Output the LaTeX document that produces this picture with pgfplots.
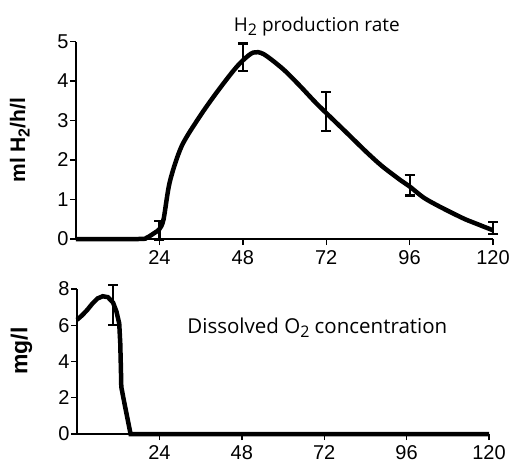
\documentclass[border=0pt]{standalone}
\usepackage{fontspec}
\setmainfont{Liberation Sans}
\newfontfamily\annfont{Open Sans}
\usepackage{pgfplots}
\pgfplotsset{compat=1.18}
\newcommand{\sub}[1]{\raisebox{-0.4ex}{\fontsize{16}{16}\selectfont #1}}
\pgfplotsset{myax/.style={
  scale only axis, axis lines=left, axis line style={-, line width=1.4pt},
  xmin=0, xmax=120, ymin=0, xtick={24,48,72,96,120},
  tick align=outside, major tick length=6pt,
  every tick/.style={line width=1.4pt, black},
  tick label style={font=\fontsize{20}{20}\selectfont},
  /pgf/number format/assume math mode=true,
  xticklabel style={yshift=-2pt},
  yticklabel style={xshift=2pt},
  clip=false, anchor=south west,
  ylabel style={at={(axis description cs:-0.135,0.5)}, anchor=center, rotate=0, font=\bfseries\fontsize{21}{21}\selectfont},
}}
\begin{document}
\begin{tikzpicture}
\useasboundingbox (0pt,0pt) rectangle (529pt,464pt);
\begin{axis}[myax, at={(76pt,225pt)}, width=417pt, height=197.5pt, ymax=5, ytick={0,1,2,3,4,5},
  ylabel={ml H\sub{2}/h/l}]
\addplot[line width=4.5pt, smooth, tension=0.5] coordinates {
(0,0) (18,0) (20.3,0.03) (22.5,0.15) (24,0.25) (25.2,0.5) (27,1.45) (30.4,2.35) (35.6,3.1) (40.4,3.7) (45.2,4.25) (48,4.52) (51,4.72) (54,4.68) (59.6,4.3) (64.4,3.88) (69,3.45) (74,3.02) (78,2.68) (83.6,2.2) (88,1.85) (93.2,1.5) (96,1.33) (100,1.05) (104,0.85) (108,0.67) (112,0.5) (116,0.36) (120,0.22)};
\addplot[draw=none, mark=none, error bars/.cd, y dir=both, y explicit,
  error bar style={line width=2.2pt, black},
  error mark options={rotate=90, mark size=5pt, line width=2.2pt, black}] coordinates {
(24,0.22) +- (0,0.24)
(48,4.6) +- (0,0.35)
(72,3.23) +- (0,0.5)
(96,1.36) +- (0,0.26)
(120,0.28) +- (0,0.16)};
\node[font=\annfont\fontsize{19}{19}\selectfont] at (axis cs:69.3,5.38) {H\sub{2} production rate};
\end{axis}
\begin{axis}[myax, at={(77pt,30pt)}, width=412pt, height=145pt, ymax=8, ytick={0,2,4,6,8},
  ylabel={mg/l}, ylabel style={at={(axis description cs:-0.135,0.572)}, font=\bfseries\fontsize{23}{23}\selectfont}]
\addplot[line width=4.5pt] coordinates {
(0,6.3) (1.5,6.55) (3,6.85) (4.5,7.2) (6,7.48) (7.5,7.6) (9,7.55) (10.5,7.25) (11.5,6.75) (12.3,6.1) (12.6,5) (12.8,3.5) (12.9,2.6) (13.5,2.0) (15.6,0) (120,0)};
\addplot[draw=none, mark=none, error bars/.cd, y dir=both, y explicit,
  error bar style={line width=2.2pt, black},
  error mark options={rotate=90, mark size=5pt, line width=2.2pt, black}] coordinates {
(10.6,7.1) +- (0,1.1)};
\node[font=\annfont\fontsize{20.5}{20.5}\selectfont] at (axis cs:70,5.85) {Dissolved O\sub{2} concentration};
\end{axis}
\end{tikzpicture}
\end{document}
